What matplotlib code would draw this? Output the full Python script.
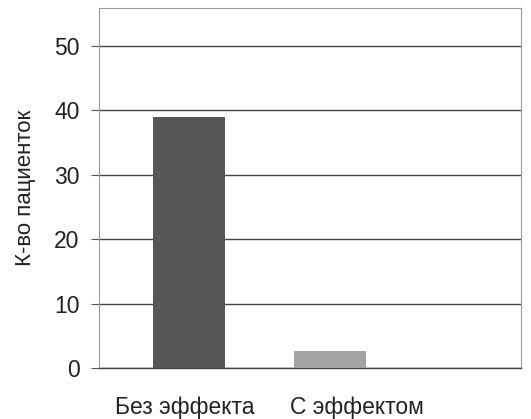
import matplotlib
matplotlib.use("Agg")
import matplotlib.pyplot as plt

categories = ["Без эффекта", "С эффектом"]
values = [39, 2.6]
yticks = [0, 10, 20, 30, 40, 50]
bar_colors = ["#575757", "#a3a3a3"]

plt.rcParams['font.family'] = ['Liberation Sans', 'DejaVu Sans']

fig = plt.figure(figsize=(5.31, 4.19), dpi=100)
ax = fig.add_axes([99/531, 1-368/419, (521-99)/531, (368-8)/419])

xpos = [0, 1]
ax.bar(xpos, values, width=0.51, color=bar_colors, zorder=3)
ax.set_xlim(-0.64, 2.35)
ax.set_ylim(0, 55.9)
ax.set_yticks(yticks)
ax.set_yticklabels([str(t) for t in yticks], fontsize=16.5, color="#222222")
ax.yaxis.grid(True, color="#444444", linewidth=1.0, zorder=0)
ax.tick_params(axis='y', length=6, width=0.8, color="#555555", pad=8)

ax.set_xticks([-0.035, 1.19])
ax.set_xticklabels(categories, fontsize=16.5, color="#222222")
ax.tick_params(axis='x', length=0, pad=20)

ax.set_ylabel("К-во пациенток", fontsize=16, color="#222222", labelpad=13)

for s in ['top', 'right', 'left']:
    ax.spines[s].set_color("#9a9a9a")
    ax.spines[s].set_linewidth(0.8)
ax.spines['bottom'].set_color("#444444")
ax.spines['bottom'].set_linewidth(1.0)

fig.savefig("out.png", dpi=100)
